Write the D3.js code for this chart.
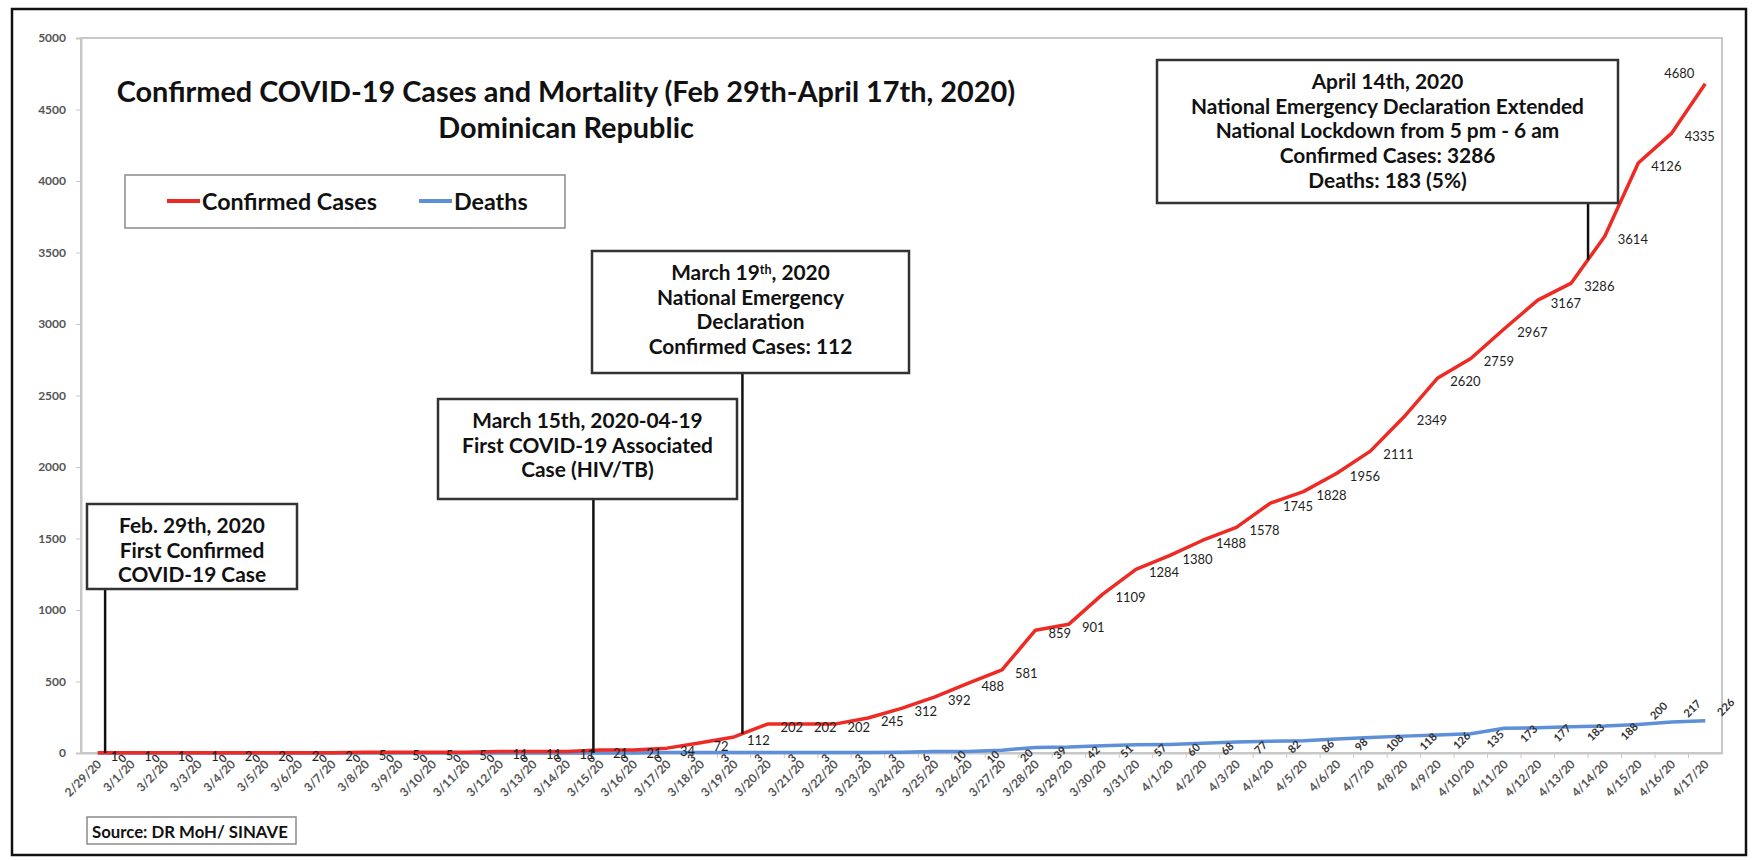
<!DOCTYPE html>
<html>
<head>
<meta charset="utf-8">
<script src="https://cdn.jsdelivr.net/npm/d3@7"></script>
<style>
  body { margin: 0; background: #fff; }
  svg { display: block; }
</style>
</head>
<body>
<svg class="chart"></svg>
<script>
// ---- data ----
const dates = ["2/29/20",
  "3/1/20","3/2/20","3/3/20","3/4/20","3/5/20","3/6/20","3/7/20","3/8/20","3/9/20","3/10/20",
  "3/11/20","3/12/20","3/13/20","3/14/20","3/15/20","3/16/20","3/17/20","3/18/20","3/19/20","3/20/20",
  "3/21/20","3/22/20","3/23/20","3/24/20","3/25/20","3/26/20","3/27/20","3/28/20","3/29/20","3/30/20","3/31/20",
  "4/1/20","4/2/20","4/3/20","4/4/20","4/5/20","4/6/20","4/7/20","4/8/20","4/9/20","4/10/20",
  "4/11/20","4/12/20","4/13/20","4/14/20","4/15/20","4/16/20","4/17/20"];
const confirmedCases = [1,1,1,1,2,2,2,2,5,5,5,5,11,11,11,21,21,34,72,112,202,202,202,245,312,392,488,581,
  859,901,1109,1284,1380,1488,1578,1745,1828,1956,2111,2349,2620,2759,2967,3167,3286,3614,4126,4335,4680];
const deaths = [0,0,0,0,0,0,0,0,0,0,0,0,0,0,0,0,0,3,3,3,3,3,3,3,6,10,10,20,
  39,42,51,57,60,68,77,82,86,98,108,118,126,135,173,177,183,188,200,217,226];
const yTicks = [0,500,1000,1500,2000,2500,3000,3500,4000,4500,5000];

const titleLines = ["Confirmed COVID-19 Cases and Mortality (Feb 29th-April 17th, 2020)", "Dominican Republic"];
const seriesNames = ["Confirmed Cases", "Deaths"];
const sourceText = "Source: DR MoH/ SINAVE";
const annotationDates = ["2/29/20", "3/15/20", "3/19/20", "4/13/20"];
const annotationText = [
  ["Feb. 29th, 2020", "First Confirmed", "COVID-19 Case"],
  ["March 15th, 2020-04-19", "First COVID-19 Associated", "Case (HIV/TB)"],
  ["March 19^th, 2020", "National Emergency", "Declaration", "Confirmed Cases: 112"],
  ["April 14th, 2020", "National Emergency Declaration Extended", "National Lockdown from 5 pm - 6 am",
   "Confirmed Cases: 3286", "Deaths: 183 (5%)"]
];

// ---- layout ----
const WIDTH = 1754, HEIGHT = 860;
const FONT = "Lato, 'Open Sans', sans-serif";
const PLOT = { left: 81, right: 1722, top: 38, bottom: 753 };
const RED = "#ee2a24", BLUE = "#5e8fd9";
const LINE_HEIGHT = 24.7;
// box: [x0, y0, x1, y1], pointer offset in steps from the anchor date
const ANNOTATION_BOXES = [
  { box: [87, 504, 297, 589], offset: 0.22, toAxis: true },
  { box: [438, 399, 737, 499], offset: -0.2, toAxis: true },
  { box: [592, 251, 909, 373], offset: 0.25, toAxis: false },
  { box: [1157, 60, 1618, 203], offset: 0.5, toAxis: false }
];

const svg = d3.select(".chart").attr("width", WIDTH).attr("height", HEIGHT);

function fitFontSize(text, weight, targetWidth) {
  const probe = svg.append("text").attr("font-family", FONT).attr("font-weight", weight)
    .attr("font-size", 100).text(text);
  const w = probe.node().getComputedTextLength();
  probe.remove();
  return 100 * targetWidth / w;
}

const x = d3.scalePoint().domain(dates).range([PLOT.left, PLOT.right]).padding(0.5);
const y = d3.scaleLinear().domain([0, 5000]).range([PLOT.bottom, PLOT.top]);
const step = x.step();

// outer frame
svg.append("rect").attr("x", 12).attr("y", 9).attr("width", 1734).attr("height", 846)
   .attr("fill", "#fff").attr("stroke", "#111").attr("stroke-width", 2.5);

// plot area border
svg.append("rect").attr("x", PLOT.left).attr("y", PLOT.top)
   .attr("width", PLOT.right - PLOT.left).attr("height", PLOT.bottom - PLOT.top)
   .attr("fill", "none").attr("stroke", "#c8c8c8").attr("stroke-width", 2);

// y axis
const yAxis = svg.append("g").attr("transform", "translate(" + PLOT.left + ",0)")
  .call(d3.axisLeft(y).tickValues(yTicks).tickFormat(d3.format("d")).tickSize(5).tickPadding(10));
yAxis.select(".domain").attr("stroke", "#c8c8c8").attr("stroke-width", 2);
yAxis.selectAll(".tick line").attr("stroke", "#c8c8c8");
yAxis.selectAll(".tick text").attr("font-family", FONT).attr("font-weight", "bold")
  .attr("font-size", 12).attr("fill", "#555");

// x axis
const xAxis = svg.append("g").attr("transform", "translate(0," + PLOT.bottom + ")")
  .call(d3.axisBottom(x).tickSize(0).tickPadding(0));
xAxis.select(".domain").attr("stroke", "#c8c8c8").attr("stroke-width", 2);
xAxis.selectAll(".tick text")
  .attr("font-family", FONT).attr("font-weight", "bold").attr("font-size", 12).attr("fill", "#555")
  .attr("text-anchor", "end").attr("dy", null).attr("y", 0)
  .attr("transform", "translate(4,12) rotate(-45)");
svg.append("g").selectAll("line").data(dates.slice(0, -1)).enter().append("line")
  .attr("x1", d => x(d) + step / 2).attr("x2", d => x(d) + step / 2)
  .attr("y1", PLOT.bottom).attr("y2", PLOT.bottom + 5)
  .attr("stroke", "#c8c8c8");

// lines
const casesLine = d3.line().x((d, i) => x(dates[i])).y(d => y(d));
svg.append("path").datum(deaths).attr("d", casesLine)
  .attr("fill", "none").attr("stroke", BLUE).attr("stroke-width", 3.5).attr("stroke-linejoin", "round");
svg.append("path").datum(confirmedCases).attr("d", casesLine)
  .attr("fill", "none").attr("stroke", RED).attr("stroke-width", 3.5).attr("stroke-linejoin", "round");

// case labels (right of point; last one above-left)
svg.append("g").selectAll("text").data(confirmedCases).enter().append("text")
  .attr("x", (d, i) => i === confirmedCases.length - 1 ? x(dates[i]) - 26 : x(dates[i]) + 13)
  .attr("y", (d, i) => i === confirmedCases.length - 1 ? y(d) - 11 : y(d) + 3)
  .attr("text-anchor", (d, i) => i === confirmedCases.length - 1 ? "middle" : "start")
  .attr("dominant-baseline", "central")
  .attr("font-family", FONT).attr("font-size", 13).attr("fill", "#1e1e1e")
  .text(d => d);

// death labels (rotated, last three above)
svg.append("g").selectAll("text").data(deaths).enter().append("text")
  .attr("transform", (d, i) => {
    const above = i >= deaths.length - 3;
    const px = x(dates[i]) + (above ? 20 : 24), py = y(d) + (above ? -14 : 5);
    return "translate(" + px + "," + py + ") rotate(-45)";
  })
  .attr("text-anchor", "middle").attr("dominant-baseline", "central")
  .attr("font-family", FONT).attr("font-weight", "bold").attr("font-size", 11).attr("fill", "#333")
  .text(d => d);

// title
const titleSize = fitFontSize(titleLines[0], "bold", 899);
svg.append("g").selectAll("text").data(titleLines).enter().append("text")
  .attr("x", 566).attr("y", (d, i) => 102 + i * 35.5)
  .attr("text-anchor", "middle").attr("font-family", FONT).attr("font-weight", "bold")
  .attr("font-size", titleSize).attr("fill", "#111")
  .text(d => d);

// legend
const legendSize = fitFontSize(seriesNames[0], "bold", 175);
svg.append("rect").attr("x", 125).attr("y", 175).attr("width", 440).attr("height", 53)
  .attr("fill", "#fff").attr("stroke", "#8a8a8a").attr("stroke-width", 1.5);
const legendX = [167, 419];
const legend = svg.append("g").selectAll("g").data(seriesNames).enter().append("g")
  .attr("transform", (d, i) => "translate(" + legendX[i] + ",0)");
legend.append("line").attr("x1", 0).attr("x2", 33).attr("y1", 201).attr("y2", 201)
  .attr("stroke", (d, i) => i === 0 ? RED : BLUE).attr("stroke-width", 4);
legend.append("text").attr("x", 35).attr("y", 210)
  .attr("font-family", FONT).attr("font-weight", "bold").attr("font-size", legendSize).attr("fill", "#111")
  .text(d => d);

// source
const sourceSize = fitFontSize(sourceText, "bold", 196);
svg.append("rect").attr("x", 87).attr("y", 817).attr("width", 209).attr("height", 27)
  .attr("fill", "#fff").attr("stroke", "#8a8a8a").attr("stroke-width", 1.5);
svg.append("text").attr("x", 92).attr("y", 838)
  .attr("font-family", FONT).attr("font-weight", "bold").attr("font-size", sourceSize).attr("fill", "#111")
  .text(sourceText);

// annotations
const annSize = fitFontSize(annotationText[3][1], "bold", 393);
function lineYAt(px) {
  const i = Math.max(0, Math.min(dates.length - 2, Math.floor((px - x(dates[0])) / step)));
  const t = (px - x(dates[i])) / step;
  return y(confirmedCases[i] + t * (confirmedCases[i + 1] - confirmedCases[i]));
}
annotationText.forEach((lines, k) => {
  const a = ANNOTATION_BOXES[k];
  const [x0, y0, x1, y1] = a.box;
  const px = x(annotationDates[k]) + a.offset * step;
  const py = a.toAxis ? PLOT.bottom : lineYAt(px);
  svg.append("line").attr("x1", px).attr("x2", px).attr("y1", y1).attr("y2", py)
    .attr("stroke", "#111").attr("stroke-width", 2.5);
  svg.append("rect").attr("x", x0).attr("y", y0).attr("width", x1 - x0).attr("height", y1 - y0)
    .attr("fill", "#fff").attr("stroke", "#333").attr("stroke-width", 2.5);
  const t = svg.append("text").attr("text-anchor", "middle")
    .attr("font-family", FONT).attr("font-weight", "bold").attr("font-size", annSize).attr("fill", "#111");
  lines.forEach((line, j) => {
    const ty = y0 + 29 + j * LINE_HEIGHT;
    if (line.includes("^")) {
      const parts = line.split(/\^(\w+)/);
      const g = t.append("tspan").attr("x", (x0 + x1) / 2).attr("y", ty);
      g.append("tspan").text(parts[0]);
      g.append("tspan").attr("dy", -6).attr("font-size", annSize * 0.6).text(parts[1]);
      g.append("tspan").attr("dy", 6).text(parts[2]);
    } else {
      t.append("tspan").attr("x", (x0 + x1) / 2).attr("y", ty).text(line);
    }
  });
});
</script>
</body>
</html>
